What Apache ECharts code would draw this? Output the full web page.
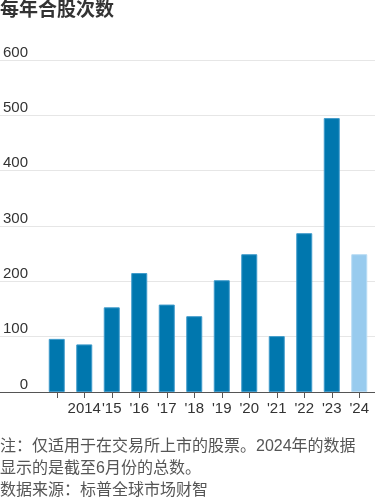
<!DOCTYPE html>
<html>
<head>
<meta charset="utf-8">
<script src="https://cdn.jsdelivr.net/npm/echarts@6/dist/echarts.min.js"></script>
<style>
  html, body { margin: 0; padding: 0; background: #fff; }
  #chart { width: 375px; height: 500px; }
</style>
</head>
<body>
<div id="chart"></div>
<script>
  // years and number of reverse splits
  const years = ['2013', '2014', '2015', '2016', '2017', '2018', '2019', '2020', '2021', '2022', '2023', '2024']
  const tickLabels = ['', '2014', "'15", "'16", "'17", "'18", "'19", "'20", "'21", "'22", "'23", "'24"]
  const counts = [96, 86, 153, 215, 158, 137, 202, 249, 101, 287, 495, 249]
  const partialYear = '2024'

  const font = '"Liberation Sans", Arial, "Noto Sans CJK SC", sans-serif'
  const dark = '#0077ae'
  const darkEdge = '#3f9bcb'
  const light = '#98cbee'
  const lightEdge = '#b8dcf4'

  const chart = echarts.init(document.getElementById('chart'))

  const option = {
    animation: false,
    title: {
      text: '每年合股次数',
      left: 0,
      top: 1,
      padding: 0,
      textStyle: {
        fontFamily: font,
        fontSize: 19,
        fontWeight: 'bold',
        color: '#333'
      }
    },
    grid: [
      { left: 0, right: 0, top: 60, bottom: 108 },
      { left: 43, right: 2, top: 60, bottom: 108 }
    ],
    xAxis: [
      {
        type: 'value',
        gridIndex: 0,
        min: 0,
        max: 1,
        z: 10,
        axisLine: { show: true, lineStyle: { color: '#555', width: 1 } },
        axisTick: { show: false },
        axisLabel: { show: false },
        splitLine: { show: false }
      },
      {
        type: 'category',
        gridIndex: 1,
        data: years,
        axisLine: { show: false },
        axisTick: {
          show: true,
          alignWithLabel: true,
          length: 6,
          lineStyle: { color: '#555' }
        },
        axisLabel: {
          interval: 0,
          margin: 9,
          fontFamily: font,
          fontSize: 15,
          color: '#333',
          formatter: (v, i) => tickLabels[i]
        }
      }
    ],
    yAxis: [
      {
        type: 'value',
        gridIndex: 0,
        min: 0,
        max: 600,
        interval: 100,
        axisLine: { show: false },
        axisTick: { show: false },
        axisLabel: {
          inside: true,
          align: 'right',
          verticalAlign: 'bottom',
          margin: 28,
          fontFamily: font,
          fontSize: 15,
          color: '#333'
        },
        splitLine: { show: true, lineStyle: { color: '#e6e6e6', width: 1 } }
      },
      {
        type: 'value',
        gridIndex: 1,
        min: 0,
        max: 600,
        show: false
      }
    ],
    series: [
      {
        type: 'bar',
        xAxisIndex: 1,
        yAxisIndex: 1,
        barWidth: 16,
        data: counts,
        itemStyle: {
          borderWidth: 1,
          color: (p) => (years[p.dataIndex] === partialYear ? light : dark),
          borderColor: darkEdge
        }
      }
    ],
    graphic: [
      {
        type: 'text',
        left: 0,
        top: 436,
        style: {
          text: '注：仅适用于在交易所上市的股票。2024年的数据\n显示的是截至6月份的总数。\n数据来源：标普全球市场财智',
          font: '16px ' + font,
          lineHeight: 22,
          fill: '#555'
        }
      }
    ]
  }

  // lighter edge on the partial-year bar
  option.series[0].data = counts.map((v, i) =>
    years[i] === partialYear ? { value: v, itemStyle: { borderColor: lightEdge } } : v
  )

  chart.setOption(option)
</script>
</body>
</html>
